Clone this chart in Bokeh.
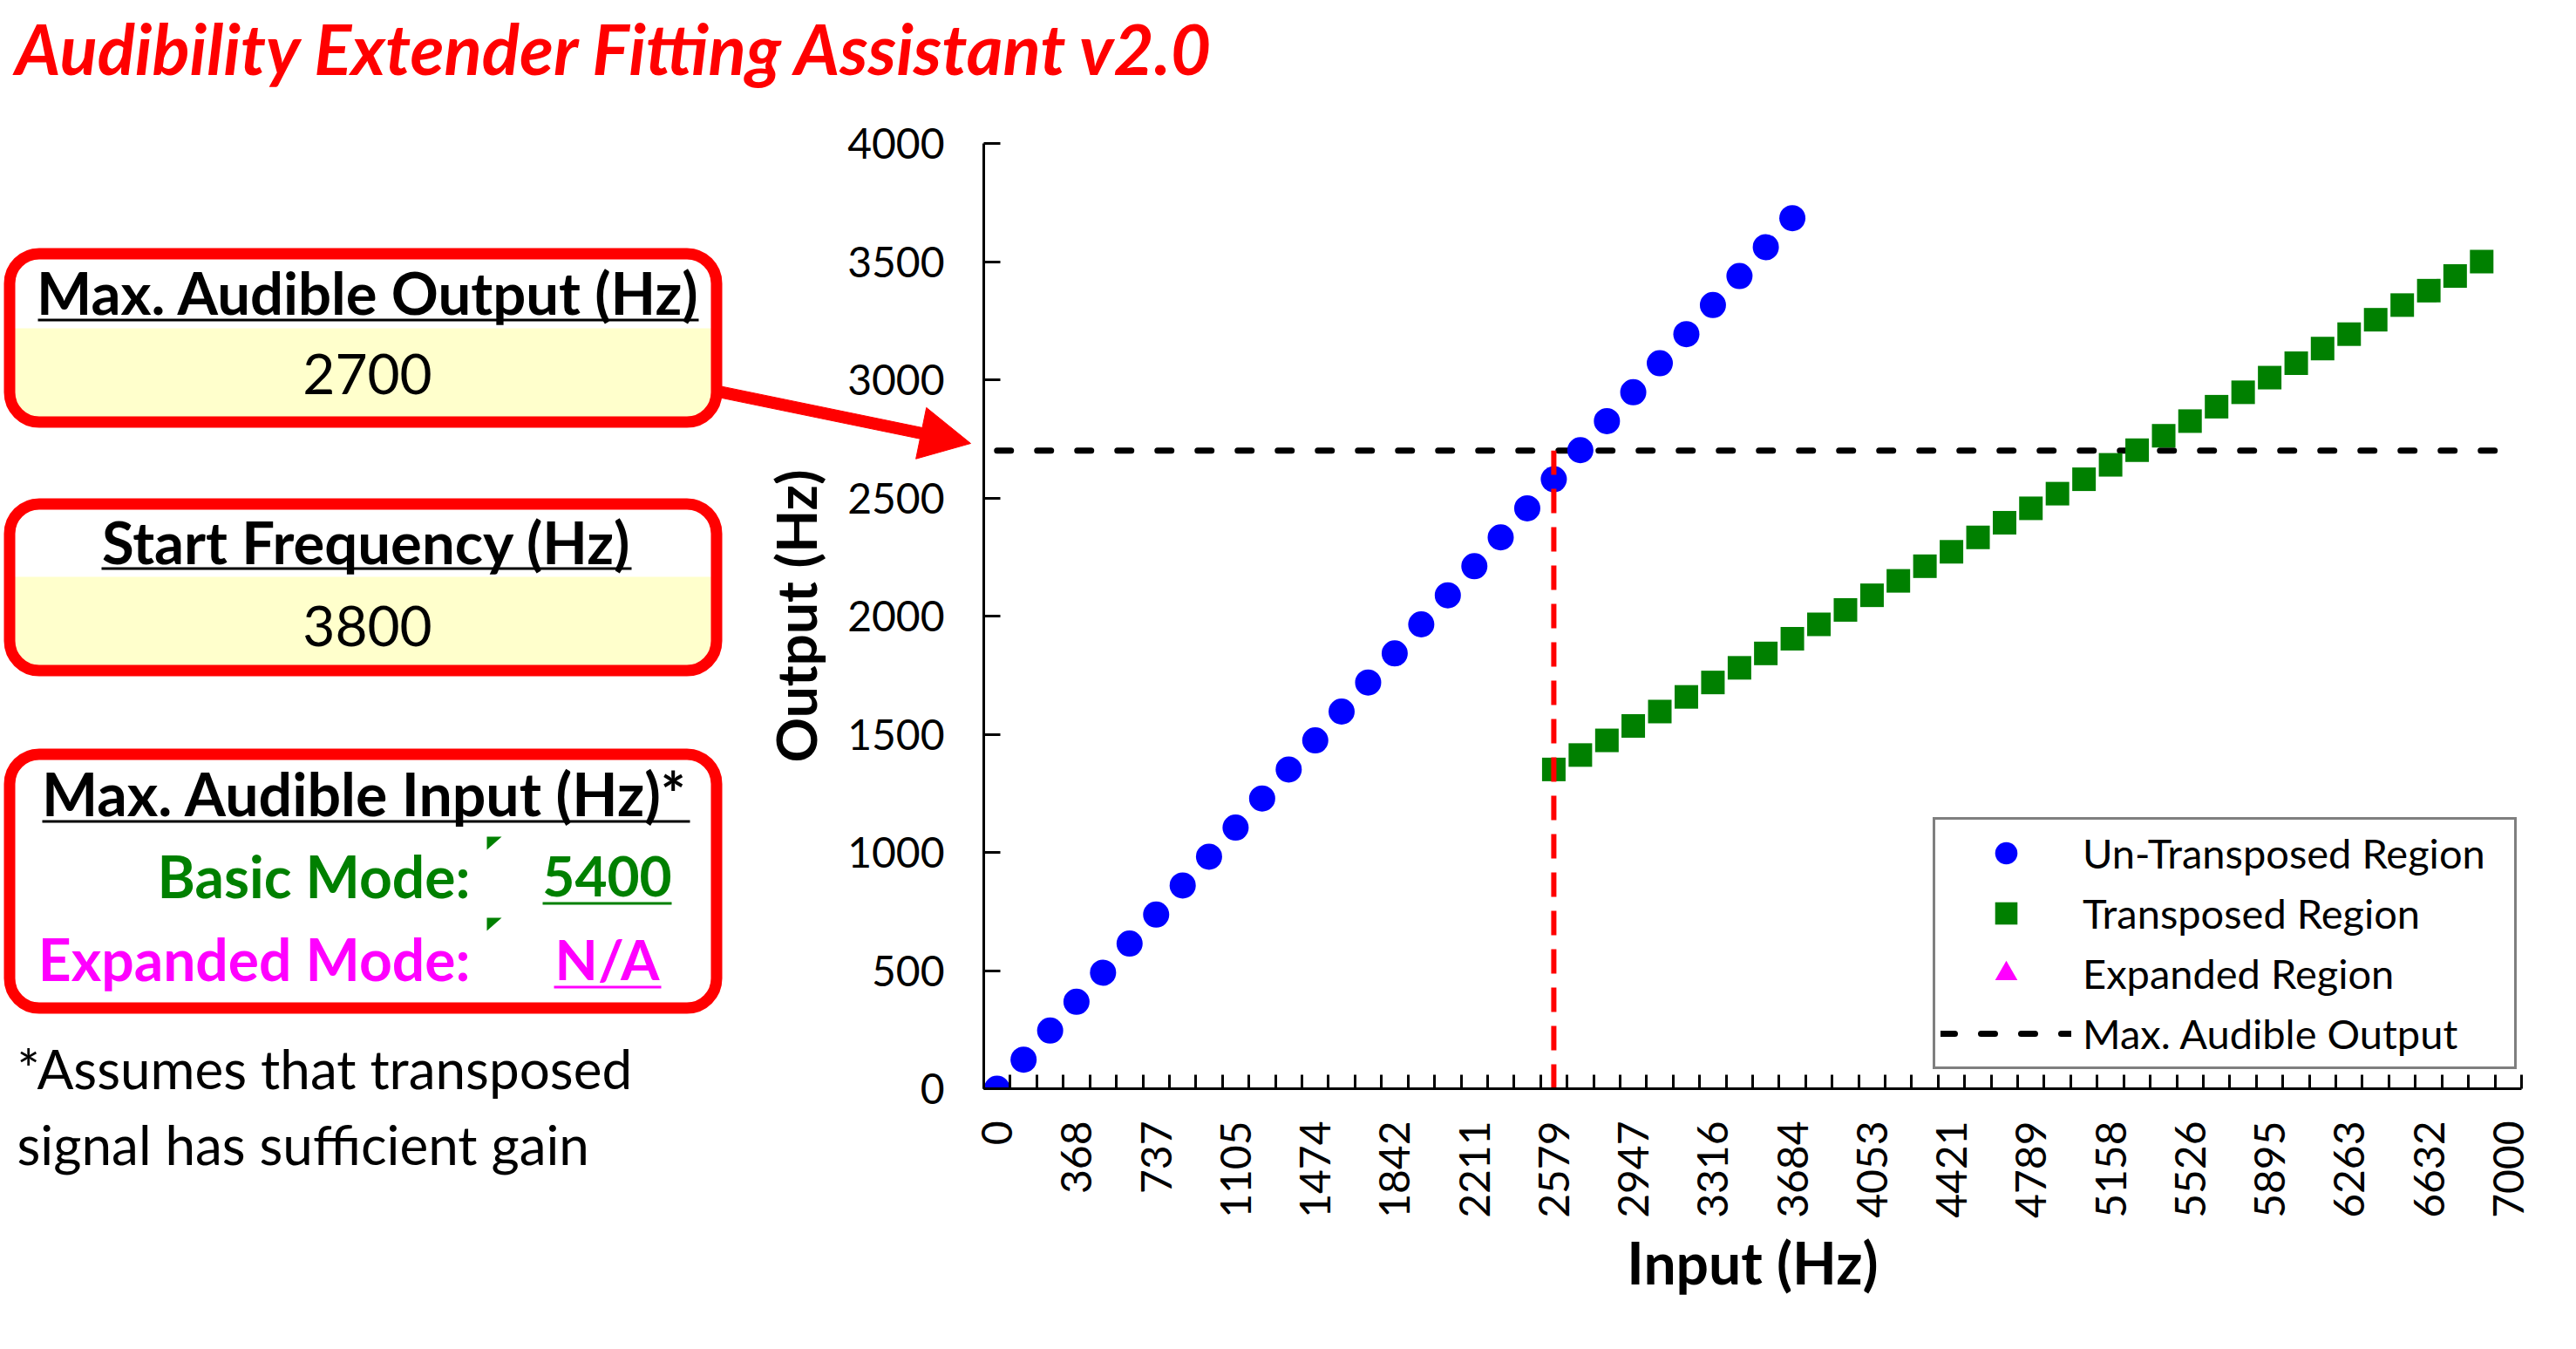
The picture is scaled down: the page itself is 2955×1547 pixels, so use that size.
import math
from bokeh.plotting import figure
from bokeh.layouts import row
from bokeh.models import (Range1d, FixedTicker, NumeralTickFormatter, Legend, LegendItem,
                          BoxAnnotation, Label, PolyAnnotation)
from bokeh.embed import file_html
from bokeh.resources import INLINE

# ---------------- data ----------------
input_hz = [0, 123, 246, 368, 491, 614, 737, 860, 982, 1105, 1228, 1351, 1474, 1596,
            1719, 1842, 1965, 2088, 2211, 2333, 2456, 2579, 2702, 2825, 2947, 3070, 3193,
            3316, 3439, 3561, 3684, 3807, 3930, 4053, 4175, 4298, 4421, 4544, 4667, 4789,
            4912, 5035, 5158, 5281, 5404, 5526, 5649, 5772, 5895, 6018, 6140, 6263, 6386,
            6509, 6632, 6754, 6877, 7000]

untransposed_in = input_hz[0:31]
untransposed_out = [0, 123, 246, 368, 491, 614, 737, 860, 982, 1105, 1228, 1351, 1474,
                    1596, 1719, 1842, 1965, 2088, 2211, 2333, 2456, 2579, 2702, 2825,
                    2947, 3070, 3193, 3316, 3439, 3561, 3684]

transposed_in = input_hz[21:57]
transposed_out = [1351, 1412, 1474, 1535, 1596, 1658, 1719, 1781, 1842, 1904, 1965, 2026,
                  2088, 2149, 2211, 2272, 2333, 2395, 2456, 2518, 2579, 2640, 2702, 2763,
                  2825, 2886, 2947, 3009, 3070, 3132, 3193, 3254, 3316, 3377, 3439, 3500]

# expanded mode is N/A: no points
expanded_in = [float("nan")]
expanded_out = [float("nan")]

max_audible_output = 2700
start_frequency = 3800
max_input_basic = "5400"
max_input_expanded = "N/A"

y_ticks = [0, 500, 1000, 1500, 2000, 2500, 3000, 3500, 4000]
x_label_ticks = input_hz[::3]

# ---------------- derived ----------------
half = (input_hz[1] - input_hz[0]) / 2
boundaries = [input_hz[0] - half] + [(a + b) / 2 for a, b in zip(input_hz[:-1], input_hz[1:])] \
             + [input_hz[-1] + (input_hz[-1] - input_hz[-2]) / 2]
crossover_input = max(x for x, y in zip(untransposed_in, untransposed_out) if y <= max_audible_output)

FONT = "Lato"
W, H = 2955, 1547
RED = "#FF0000"
YEL = "#FFFFCC"
GREEN = "#008000"
MAG = "#FF00FF"

# ================= chart =================
p = figure(width=W, height=H, output_backend="svg", toolbar_location=None,
           x_range=Range1d(boundaries[0], boundaries[-1]), y_range=Range1d(0, 4000),
           min_border_left=1128, min_border_right=63, min_border_top=164, min_border_bottom=299)
p.frame_align = False
p.xgrid.visible = False
p.ygrid.visible = False
p.outline_line_color = None
p.background_fill_color = "white"
p.border_fill_color = "white"

xa = p.xaxis[0]
xa.ticker = FixedTicker(ticks=x_label_ticks, minor_ticks=boundaries)
xa.formatter = NumeralTickFormatter(format="0")
xa.major_label_orientation = math.pi / 2
xa.major_tick_line_color = None
xa.major_tick_in = 0
xa.major_tick_out = 0
xa.minor_tick_in = 16
xa.minor_tick_out = 0
xa.minor_tick_line_width = 3
xa.minor_tick_line_color = "black"
xa.axis_line_width = 3
xa.axis_line_color = "black"
xa.major_label_standoff = 37
xa.major_label_text_font = FONT
xa.major_label_text_font_size = "48px"
xa.major_label_text_color = "black"
xa.axis_label = "Input (Hz)"
xa.axis_label_text_font = FONT
xa.axis_label_text_font_style = "bold"
xa.axis_label_text_font_size = "66px"
xa.axis_label_text_color = "black"
xa.axis_label_standoff = 8

ya = p.yaxis[0]
ya.ticker = FixedTicker(ticks=y_ticks)
ya.major_tick_in = 19
ya.major_tick_out = 0
ya.major_tick_line_width = 3
ya.major_tick_line_color = "black"
ya.minor_tick_line_color = None
ya.axis_line_width = 3
ya.axis_line_color = "black"
ya.major_label_standoff = 45
ya.major_label_text_font = FONT
ya.major_label_text_font_size = "48px"
ya.major_label_text_color = "black"
ya.axis_label = "Output (Hz)"
ya.axis_label_text_font = FONT
ya.axis_label_text_font_style = "bold"
ya.axis_label_text_font_size = "64px"
ya.axis_label_text_color = "black"
ya.axis_label_standoff = 18

r_max = p.line(x=[input_hz[0], input_hz[-1]], y=[max_audible_output, max_audible_output],
               line_color="black", line_width=7, line_dash="16 30", line_cap="round")
r_un = p.scatter(x=untransposed_in, y=untransposed_out, marker="circle", size=30,
                 fill_color="#0000FF", line_color=None)
r_tr = p.scatter(x=transposed_in, y=transposed_out, marker="square", size=27,
                 fill_color=GREEN, line_color=None)
r_ex = p.scatter(x=expanded_in, y=expanded_out, marker="triangle", size=27,
                 fill_color=MAG, line_color=None)
p.line(x=[crossover_input, crossover_input], y=[0, max_audible_output],
       line_color=RED, line_width=6, line_dash="28 16")

legend = Legend(items=[LegendItem(label="Un-Transposed Region", renderers=[r_un]),
                       LegendItem(label="Transposed Region", renderers=[r_tr]),
                       LegendItem(label="Expanded Region", renderers=[r_ex]),
                       LegendItem(label="Max. Audible Output", renderers=[r_max])],
                location=(1089, 22), margin=0, padding=6, spacing=5,
                glyph_width=150, glyph_height=64, label_standoff=13, label_width=489,
                label_text_font=FONT, label_text_font_size="47px", label_text_color="black",
                border_line_color="black", border_line_width=3, background_fill_color="white",
                background_fill_alpha=1.0)
p.add_layout(legend)

# ================= left panel (overlay figure in pixel coordinates) =================
q = figure(width=W, height=H, output_backend="svg", toolbar_location=None,
           x_range=Range1d(0, W), y_range=Range1d(H, 0), min_border=0,
           x_axis_location=None, y_axis_location=None)
q.frame_align = False
q.xgrid.visible = False
q.ygrid.visible = False
q.outline_line_color = None
q.background_fill_alpha = 0
q.border_fill_alpha = 0
q.margin = (0, 0, 0, -W)


def box(l, r, t, b, **kw):
    kw.setdefault("line_alpha", 1.0)
    q.add_layout(BoxAnnotation(left=l, right=r, top=t, bottom=b, **kw))


def label(x, y, text, size, color="black", style="normal", align="center"):
    q.add_layout(Label(x=x, y=y, text=text, text_font=FONT, text_font_size=size,
                       text_font_style=style, text_color=color, text_align=align,
                       text_baseline="alphabetic"))


# yellow value bands
box(15, 822, 376, 483, fill_color=YEL, fill_alpha=1, line_color=None, border_radius=(0, 0, 30, 30))
box(15, 822, 661, 768, fill_color=YEL, fill_alpha=1, line_color=None, border_radius=(0, 0, 30, 30))
# red rounded frames
for top, bot in [(284, 490), (571, 775), (858, 1162)]:
    box(10.5, 821.5, top + 6.5, bot - 6.5, fill_alpha=0, line_color=RED, line_width=13,
        border_radius=34)
# underlines
box(43, 801, 365, 368, fill_color="black", fill_alpha=1, line_color=None)
box(116, 724, 650, 653, fill_color="black", fill_alpha=1, line_color=None)
box(48, 791, 940, 943, fill_color="black", fill_alpha=1, line_color=None)
box(622, 770, 1034, 1037, fill_color=GREEN, fill_alpha=1, line_color=None)
box(635, 758, 1130, 1133, fill_color=MAG, fill_alpha=1, line_color=None)

label(17, 54, "Audibility Extender Fitting Assistant v2.0", "80px", RED, "bold italic", "left")
label(422, 334, "Max. Audible Output (Hz)", "67px", style="bold")
label(421, 428, f"{max_audible_output}", "64px")
label(420, 620, "Start Frequency (Hz)", "67px", style="bold")
label(421, 717, f"{start_frequency}", "64px")
label(418, 909, "Max. Audible Input (Hz)*", "68px", style="bold")
label(539, 1004, "Basic Mode:", "66px", GREEN, "bold", "right")
label(696, 1004, max_input_basic, "64px", GREEN, "bold")
label(539, 1099, "Expanded Mode:", "66px", MAG, "bold", "right")
label(696, 1099, max_input_expanded, "64px", MAG, "bold")
label(19, 1224, "*Assumes that transposed", "62px", align="left")
label(19, 1311, "signal has sufficient gain", "62px", align="left")

# small comment markers
for ty in (959, 1052):
    q.add_layout(PolyAnnotation(xs=[558, 575, 558], ys=[ty, ty, ty + 15],
                                fill_color=GREEN, fill_alpha=1, line_color=None))

# red arrow (polygon) pointing at the max audible output level
ax0, ay0, ax1, ay1 = 826, 449, 1113, 508
shaft_hw, head_len, head_hw = 6.5, 58, 30
dx, dy = ax1 - ax0, ay1 - ay0
ln = math.hypot(dx, dy)
ux, uy = dx / ln, dy / ln
nx, ny = -uy, ux
bx, by = ax1 - head_len * ux, ay1 - head_len * uy
arrow_xs = [ax0 + shaft_hw * nx, bx + shaft_hw * nx, bx + head_hw * nx, ax1,
            bx - head_hw * nx, bx - shaft_hw * nx, ax0 - shaft_hw * nx]
arrow_ys = [ay0 + shaft_hw * ny, by + shaft_hw * ny, by + head_hw * ny, ay1,
            by - head_hw * ny, by - shaft_hw * ny, ay0 - shaft_hw * ny]
q.add_layout(PolyAnnotation(xs=arrow_xs, ys=arrow_ys, fill_color=RED, fill_alpha=1,
                            line_color=RED, line_alpha=1, line_width=1))

layout = row(p, q)
open("out.html", "w").write(file_html(layout, INLINE))
